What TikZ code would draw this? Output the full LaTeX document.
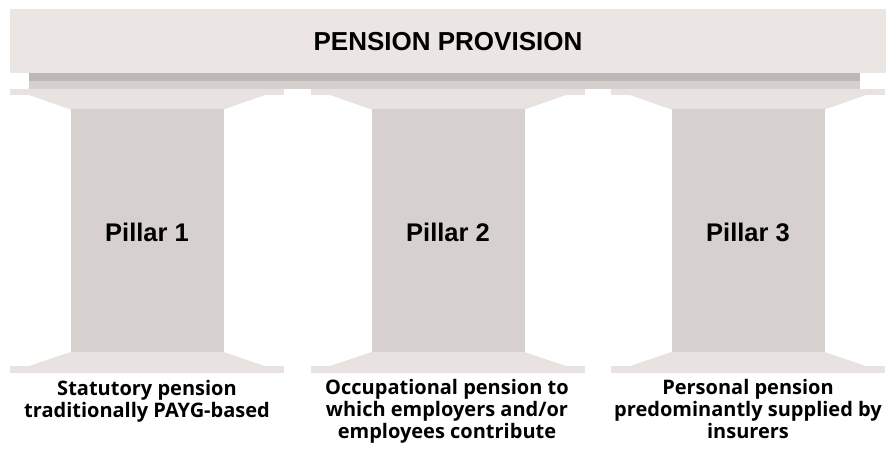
\documentclass[tikz,border=0pt]{standalone}
\usepackage{fontspec}
\setmainfont{Liberation Sans}
\newfontfamily\captionfont{Open Sans}
\definecolor{bandcol}{HTML}{EBE6E3}
\definecolor{slabcol}{HTML}{E8E3E0}
\definecolor{shaftcol}{HTML}{D6D1CE}
\definecolor{stripecol}{HTML}{BDB8B5}
\tikzset{
  headtext/.style={font=\fontsize{26}{30}\selectfont\bfseries, text=black, inner sep=0pt},
  pillartext/.style={font=\fontsize{25.5}{30}\selectfont\bfseries, text=black, inner sep=0pt},
  captiontext/.style={font=\captionfont\fontsize{20}{22}\selectfont\bfseries, text=black, align=center, inner sep=0pt, anchor=north},
}
\begin{document}
\begin{tikzpicture}[x=1pt,y=-1pt]
\useasboundingbox (0,0) rectangle (887,459);
% entablature
\fill[bandcol] (10,9) rectangle (886,72.5);
\fill[stripecol] (29,73) rectangle (860,81);
\fill[shaftcol] (29,81) rectangle (860,89);
\node[headtext] (title) at (448,41.5) {PENSION PROVISION};
% pillars
\foreach \cx/\n in {147/1,448/2,748/3}{
  \fill[slabcol] (\cx-137,89) rectangle (\cx+137,95);
  \fill[slabcol] (\cx-118,95) -- (\cx+118,95) -- (\cx+76.5,109.5) -- (\cx-76.5,109.5) -- cycle;
  \fill[shaftcol] (\cx-76.5,109) rectangle (\cx+76.5,352.5);
  \fill[slabcol] (\cx-76.5,352) -- (\cx+76.5,352) -- (\cx+118,366) -- (\cx-118,366) -- cycle;
  \fill[slabcol] (\cx-137,366) rectangle (\cx+137,373);
  \node[pillartext] (pillar\n) at (\cx,232.5) {Pillar \n};
}
\node[captiontext] (cap1) at (147,380.5) {Statutory pension\\traditionally PAYG-based};
\node[captiontext] (cap2) at (447,379.5) {Occupational pension to\\which employers and/or\\employees contribute};
\node[captiontext] (cap3) at (748,379.5) {Personal pension\\predominantly supplied by\\insurers};
\end{tikzpicture}
\end{document}
